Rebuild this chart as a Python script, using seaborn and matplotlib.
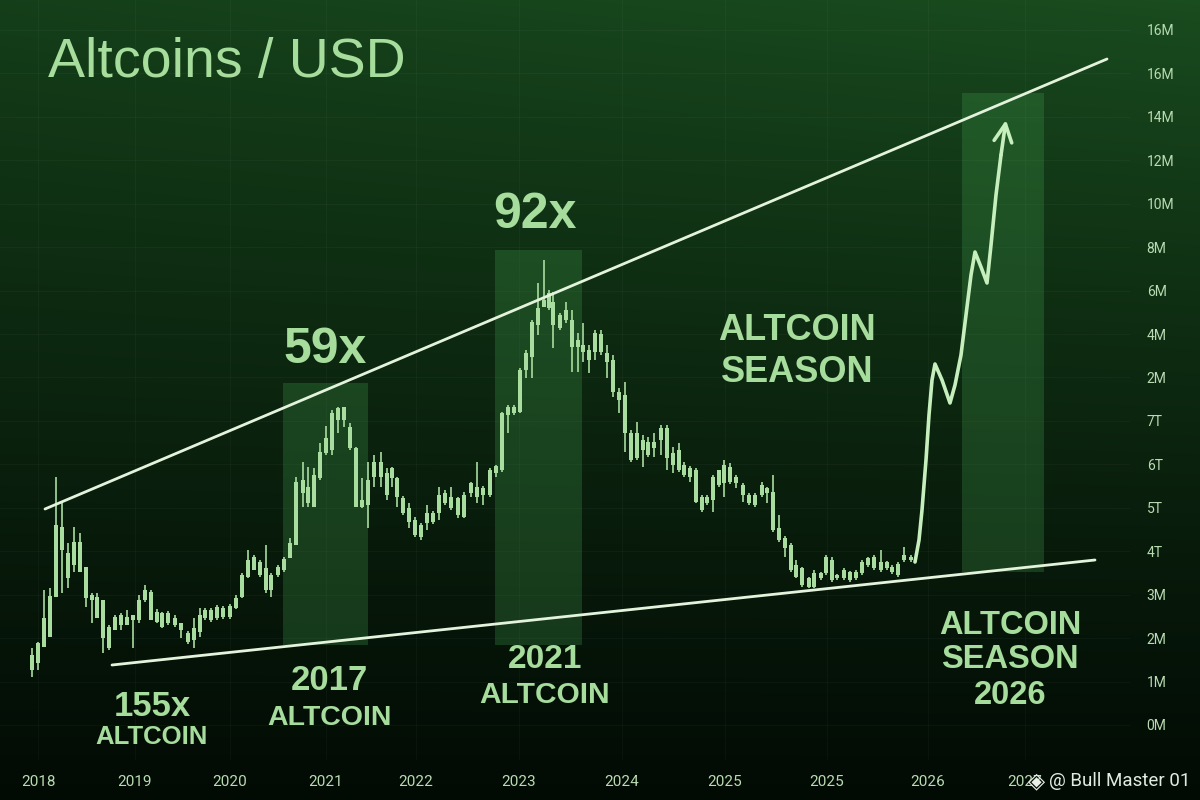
import numpy as np
import pandas as pd
import matplotlib
matplotlib.use("Agg")
import matplotlib.pyplot as plt
from matplotlib.patches import Rectangle
import seaborn as sns

# ---------------------------------------------------------------------------
# Data (x = time position, y = price-scale units; one tick step = 43.44 units)
# ---------------------------------------------------------------------------
candle_t = [32, 38, 44, 50, 56, 62, 68, 74, 80, 86, 92, 97, 103, 109, 115, 121, 127, 133,
            139, 145, 151, 157, 162, 168, 175, 181, 188, 194, 200, 205, 211, 217, 223, 230,
            236, 242, 248, 254, 260, 266, 271, 278, 284, 290, 296, 303, 308, 314, 320, 326,
            332, 338, 344, 350, 356, 362, 368, 374, 381, 387, 392, 397, 403, 409, 415, 421,
            427, 433, 439, 445, 451, 458, 464, 471, 477, 483, 490, 496, 502, 508, 514, 520,
            526, 532, 538, 544, 549, 553, 560, 566, 572, 578, 583, 589, 595, 601, 607, 613,
            619, 625, 631, 637, 643, 648, 654, 661, 667, 673, 679, 684, 690, 696, 702, 707,
            713, 719, 724, 730, 736, 743, 749, 755, 762, 767, 773, 779, 785, 791, 796, 802,
            809, 814, 821, 826, 832, 837, 844, 850, 856, 862, 868, 874, 881, 887, 892, 898,
            904, 911]
candle_open = [55, 62, 78, 88, 128, 175, 147, 160, 153, 127, 125, 107, 87, 77, 95, 100, 100, 105,
               105, 125, 105, 103, 98, 102, 100, 95, 83, 85, 93, 107, 105, 107, 108, 108,
               117, 128, 148, 155, 150, 135, 135, 150, 155, 167, 180, 232, 222, 218, 247, 272,
               275, 305, 305, 277, 218, 218, 220, 248, 248, 230, 247, 228, 212, 203, 190, 188,
               202, 203, 212, 222, 217, 210, 208, 232, 228, 230, 230, 252, 255, 310, 312, 313,
               355, 368, 400, 418, 417, 400, 397, 405, 378, 378, 373, 365, 373, 373, 363, 333,
               325, 292, 265, 267, 275, 270, 277, 285, 267, 260, 255, 250, 248, 223, 215, 222,
               225, 240, 242, 243, 242, 230, 222, 220, 230, 232, 195, 185, 177, 155, 148, 140,
               138, 138, 147, 152, 145, 147, 147, 145, 147, 152, 160, 157, 155, 157, 153, 150,
               165, 165]
candle_close = [70, 82, 107, 129, 200, 198, 172, 183, 183, 158, 130, 128, 125, 98, 108, 110, 108, 110,
                125, 135, 133, 113, 112, 112, 107, 102, 92, 97, 110, 115, 115, 118, 117, 119,
                127, 150, 165, 168, 163, 157, 150, 158, 166, 182, 243, 245, 238, 250, 273, 287,
                312, 317, 318, 298, 277, 225, 245, 263, 263, 252, 257, 247, 227, 217, 205, 200,
                212, 212, 230, 232, 228, 227, 230, 242, 238, 237, 255, 259, 312, 318, 318, 355,
                372, 403, 417, 425, 432, 423, 410, 415, 405, 385, 380, 375, 392, 391, 372, 365,
                333, 330, 292, 292, 285, 283, 283, 297, 297, 272, 275, 260, 257, 255, 228, 228,
                248, 255, 260, 258, 248, 240, 230, 230, 240, 237, 233, 197, 187, 180, 160, 157,
                147, 152, 152, 168, 165, 150, 155, 153, 153, 163, 167, 168, 163, 163, 158, 161,
                170, 168]
candle_high = [77, 83, 135, 137, 248, 222, 182, 198, 192, 158, 132, 132, 125, 100, 110, 112, 115, 110,
               130, 140, 135, 116, 113, 114, 110, 102, 94, 107, 117, 117, 117, 120, 119, 121,
               130, 152, 175, 170, 165, 180, 152, 160, 168, 187, 248, 263, 258, 257, 282, 299,
               315, 318, 318, 302, 278, 247, 263, 270, 273, 257, 258, 248, 229, 222, 208, 202,
               220, 214, 238, 235, 238, 228, 233, 243, 263, 239, 257, 260, 313, 320, 320, 357,
               375, 405, 442, 465, 435, 433, 412, 423, 415, 392, 402, 380, 395, 395, 380, 370,
               337, 343, 295, 303, 290, 288, 292, 300, 300, 278, 282, 263, 259, 257, 230, 230,
               250, 255, 265, 262, 250, 242, 232, 232, 243, 238, 250, 210, 189, 182, 165, 158,
               148, 155, 153, 170, 168, 151, 157, 154, 155, 165, 168, 170, 175, 164, 160, 163,
               178, 170]
candle_low = [48, 55, 78, 88, 128, 132, 137, 153, 153, 118, 102, 107, 72, 75, 95, 95, 100, 77,
              102, 123, 105, 102, 97, 100, 98, 87, 81, 77, 88, 105, 103, 105, 106, 106,
              116, 127, 147, 155, 148, 132, 128, 148, 153, 167, 180, 218, 218, 218, 245, 270,
              270, 292, 298, 275, 218, 217, 197, 238, 238, 225, 238, 218, 210, 197, 188, 185,
              195, 201, 205, 220, 215, 207, 207, 228, 222, 220, 228, 248, 253, 292, 310, 312,
              347, 347, 390, 418, 415, 377, 395, 402, 353, 353, 363, 352, 365, 370, 347, 328,
              312, 273, 263, 265, 258, 268, 268, 270, 255, 252, 253, 248, 243, 222, 213, 220,
              213, 238, 228, 241, 237, 223, 220, 218, 228, 222, 193, 183, 168, 153, 147, 138,
              137, 137, 145, 150, 143, 145, 145, 143, 145, 150, 158, 155, 153, 155, 151, 148,
              163, 163]

# Projected "altcoin season" path
proj_t = [915, 919, 922, 926, 929, 932, 935, 942, 950, 955, 961, 966, 971, 975, 981, 987,
          991, 996, 1001, 1006]
proj_y = [163, 185, 215, 265, 310, 345, 361, 345, 322, 340, 370, 410, 450, 473, 458, 442,
          480, 530, 570, 605]

# Channel trend lines (start, end)
upper_t, upper_y = [45, 1107], [216, 666]
lower_t, lower_y = [112, 1095], [60, 165]

# Highlighted cycles: (start, end, bottom, top)
zone_start = [283, 495, 962]
zone_end = [368, 582, 1044]
zone_bottom = [80, 80, 153]
zone_top = [342, 475, 632]

# Axes labels
year_pos = [38, 135, 230, 326, 416, 519, 622, 725, 827, 928, 1025]
year_labels = ["2018", "2019", "2020", "2021", "2022", "2023", "2024", "2025", "2025",
               "2026", "2027"]
price_labels = ["0M", "1M", "2M", "3M", "4T", "5T", "6T", "7T", "2M", "4M", "6M", "8M",
                "10M", "12M", "14M", "16M", "16M"]
price_step = 43.44

# ---------------------------------------------------------------------------
sns.set_theme(style="dark")
plt.rcParams["font.family"] = ["Liberation Sans", "DejaVu Sans"]

LIGHT = "#a6dc9c"
CANDLE = "#a9dc9f"
LINE = "#e4f3dc"
TICK = "#b9dbb2"

fig = plt.figure(figsize=(12, 8), dpi=100)

# Background: dark green gradient, brighter toward the top right
h, w = 800, 1200
yy, xx = np.mgrid[0:h, 0:w]
ty = yy / (h - 1)
tx = xx / (w - 1)
top = np.array([0x16, 0x43, 0x1b]) / 255.0
bottom = np.array([0x02, 0x0a, 0x04]) / 255.0
mix = np.clip(ty ** 0.9, 0, 1)[..., None]
grad = top * (1 - mix) + bottom * mix
glow = (0.06 * (tx - 0.3) * (1 - ty) ** 2)[..., None] * np.array([0.35, 0.9, 0.4])
grad = np.clip(grad + glow, 0, 1)
bg = fig.add_axes([0, 0, 1, 1])
bg.imshow(grad, aspect="auto", extent=[0, 1, 0, 1], origin="upper", interpolation="bilinear")
bg.set_axis_off()

ax = fig.add_axes([0, 0.05, 1130 / 1200, 0.95])
ax.patch.set_alpha(0)
ax.set_xlim(0, 1130)
ax.set_ylim(-35, 725)

# Axis labels and a faint grid
for s in ax.spines.values():
    s.set_visible(False)
ax.set_xticks(year_pos)
ax.set_xticklabels(year_labels)
ax.set_yticks(np.arange(len(price_labels)) * price_step)
ax.set_yticklabels(price_labels)
ax.yaxis.tick_right()
ax.tick_params(axis="x", length=0, pad=11, labelsize=11, labelcolor=TICK)
ax.tick_params(axis="y", length=0, pad=12, labelsize=10, labelcolor=TICK)
for lab in ax.get_xticklabels() + ax.get_yticklabels():
    lab.set_fontfamily(["Roboto", "DejaVu Sans"])
for lab in ax.get_yticklabels():
    lab.set_horizontalalignment("left")
ax.grid(True, color="#ffffff", alpha=0.03, lw=0.8)

# Highlighted zones
for x0, x1, y0, y1 in zip(zone_start, zone_end, zone_bottom, zone_top):
    ax.add_patch(Rectangle((x0, y0), x1 - x0, y1 - y0, facecolor="#46a552",
                           alpha=0.26, edgecolor="none", zorder=1))

# Candlesticks
candles = pd.DataFrame({"t": candle_t, "open": candle_open, "close": candle_close,
                        "high": candle_high, "low": candle_low})
body_lo = candles[["open", "close"]].min(axis=1)
body_hi = candles[["open", "close"]].max(axis=1)
ax.vlines(candles["t"], candles["low"], candles["high"], color=CANDLE, lw=1.2, zorder=3)
ax.bar(candles["t"], (body_hi - body_lo).clip(lower=2), bottom=body_lo, width=4.0,
       color=CANDLE, edgecolor="none", zorder=4)

# Channel lines
sns.lineplot(x=upper_t, y=upper_y, ax=ax, color=LINE, lw=2, zorder=5)
sns.lineplot(x=lower_t, y=lower_y, ax=ax, color=LINE, lw=2, zorder=5)

# Projection with arrow head
proj = pd.DataFrame({"t": proj_t, "y": proj_y})
sns.lineplot(data=proj.iloc[:-1], x="t", y="y", ax=ax, sort=False, color="#c6efbd",
             lw=2.6, zorder=6)
ax.annotate("", xy=(proj_t[-1], proj_y[-1]), xytext=(proj_t[-2], proj_y[-2]),
            arrowprops=dict(arrowstyle="->", color="#c6efbd", lw=2.6,
                            mutation_scale=32, shrinkA=0, shrinkB=0), zorder=6)
ax.set_xlabel("")
ax.set_ylabel("")

# Annotations
ax.text(48, 662, "Altcoins / USD", fontsize=40, color=LIGHT, ha="left", va="center")
bold = dict(color=LIGHT, fontweight="bold", ha="center", va="center", zorder=7)
ax.text(325, 375, "59x", fontsize=36, **bold)
ax.text(535, 510, "92x", fontsize=36, **bold)
ax.text(797, 395, "ALTCOIN", fontsize=26, **bold)
ax.text(797, 353, "SEASON", fontsize=26, **bold)
ax.text(152, 19, "155x", fontsize=25, **bold)
ax.text(152, -12, "ALTCOIN", fontsize=18.5, **bold)
ax.text(329, 44, "2017", fontsize=25, **bold)
ax.text(329, 7, "ALTCOIN", fontsize=20.5, **bold)
ax.text(545, 65, "2021", fontsize=24, **bold)
ax.text(545, 30, "ALTCOIN", fontsize=21.5, **bold)
ax.text(1010, 100, "ALTCOIN", fontsize=23.5, **bold)
ax.text(1010, 66, "SEASON", fontsize=23.5, **bold)
ax.text(1010, 29, "2026", fontsize=23.5, **bold)

# Signature
fig.text(1036 / 1200, 1 - 781 / 800, "◈", fontsize=16, color="#e8efe6",
         ha="center", va="center", family=["DejaVu Sans"])
fig.text(1049 / 1200, 1 - 781 / 800, "@ Bull Master 01", fontsize=13.5, color="#e3ebe1",
         ha="left", va="center", family=["Roboto", "DejaVu Sans"])

fig.savefig("out.png", dpi=100)
